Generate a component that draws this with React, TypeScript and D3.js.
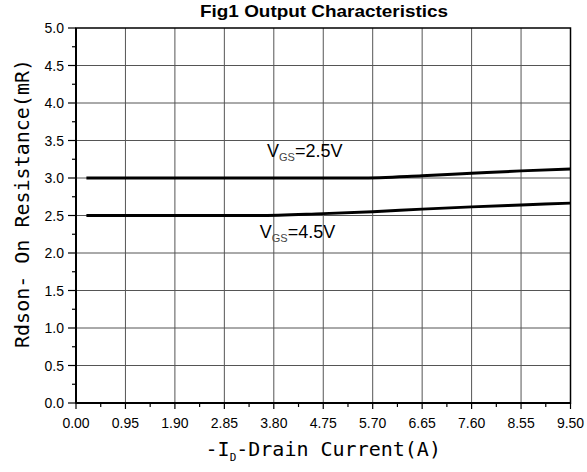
import React from "react";
import * as d3 from "d3";

const xTicks = [0, 0.95, 1.9, 2.85, 3.8, 4.75, 5.7, 6.65, 7.6, 8.55, 9.5];
const xTickLabels = ["0.00", "0.95", "1.90", "2.85", "3.80", "4.75", "5.70", "6.65", "7.60", "8.55", "9.50"];
const yTicks = [0, 0.5, 1, 1.5, 2, 2.5, 3, 3.5, 4, 4.5, 5];
const yTickLabels = ["0.0", "0.5", "1.0", "1.5", "2.0", "2.5", "3.0", "3.5", "4.0", "4.5", "5.0"];

const vgs25X = [0.2, 1.9, 3.8, 5.45, 6.65, 7.6, 8.55, 9.5];
const vgs25Y = [3.0, 3.0, 3.0, 3.0, 3.03, 3.063, 3.095, 3.12];
const vgs45X = [0.2, 1.9, 3.5, 4.75, 5.7, 6.65, 7.6, 8.55, 9.5];
const vgs45Y = [2.5, 2.5, 2.5, 2.525, 2.55, 2.585, 2.615, 2.64, 2.665];

const W = 587, H = 472;
const L = 76, R = 570.5, T = 28, B = 403;

export default function App() {
  const x = d3.scaleLinear().domain([0, 9.5]).range([L, R]);
  const y = d3.scaleLinear().domain([0, 5]).range([B, T]);
  const line = d3.line<[number, number]>().x(d => x(d[0])).y(d => y(d[1])).curve(d3.curveMonotoneX);
  const d25 = line(vgs25X.map((v, i) => [v, vgs25Y[i]]))!;
  const d45 = line(vgs45X.map((v, i) => [v, vgs45Y[i]]))!;
  const xMinor = d3.range(0, 10).map(i => 0.475 + i * 0.95);
  const yMinor = d3.range(0, 10).map(i => 0.25 + i * 0.5);
  const sans = "'Liberation Sans', Arial, sans-serif";
  const mono = "'DejaVu Sans Mono', monospace";
  return (
    <div style={{ position: "absolute", left: 0, top: 0 }}>
      <svg width={W} height={H} style={{ display: "block", background: "#fff" }}>
        <text x={200} y={17} fontFamily={sans} fontWeight="bold" fontSize={17} textLength={248} lengthAdjust="spacingAndGlyphs">
          Fig1 Output Characteristics
        </text>
        {xTicks.slice(1, -1).map(t => (
          <line key={"gx" + t} x1={x(t)} x2={x(t)} y1={T} y2={B} stroke="#555" strokeWidth={1} />
        ))}
        {yTicks.slice(1, -1).map(t => (
          <line key={"gy" + t} x1={L} x2={R} y1={y(t)} y2={y(t)} stroke="#555" strokeWidth={1} />
        ))}
        <rect x={L} y={T} width={R - L} height={B - T} fill="none" stroke="#000" strokeWidth={1.5} />
        <line x1={L} x2={L} y1={T} y2={B} stroke="#000" strokeWidth={2} />
        <line x1={L} x2={R} y1={B} y2={B} stroke="#000" strokeWidth={2} />
        {yTicks.map((t, i) => (
          <g key={"yt" + t}>
            <line x1={L - 8} x2={L} y1={y(t)} y2={y(t)} stroke="#000" strokeWidth={1.2} />
            <text x={L - 12} y={y(t) + 5} textAnchor="end" fontFamily={sans} fontSize={14}>{yTickLabels[i]}</text>
          </g>
        ))}
        {yMinor.map(t => (
          <line key={"ym" + t} x1={L - 4} x2={L} y1={y(t)} y2={y(t)} stroke="#000" strokeWidth={1.2} />
        ))}
        {xTicks.map((t, i) => (
          <g key={"xt" + t}>
            <line x1={x(t)} x2={x(t)} y1={B} y2={B + 6} stroke="#000" strokeWidth={1.2} />
            <text x={x(t)} y={B + 25} textAnchor="middle" fontFamily={sans} fontSize={14}>{xTickLabels[i]}</text>
          </g>
        ))}
        {xMinor.map(t => (
          <line key={"xm" + t} x1={x(t)} x2={x(t)} y1={B} y2={B + 4} stroke="#000" strokeWidth={1.2} />
        ))}
        <path d={d25} fill="none" stroke="#000" strokeWidth={3} />
        <path d={d45} fill="none" stroke="#000" strokeWidth={3} />
        <text x={x(3.67)} y={y(3.28)} fontFamily={sans} fontSize={18}>
          V<tspan fontSize={11} dy={4} fill="#444">GS</tspan><tspan dy={-4}>=2.5V</tspan>
        </text>
        <text x={x(3.53)} y={y(2.2)} fontFamily={sans} fontSize={18}>
          V<tspan fontSize={11} dy={4} fill="#444">GS</tspan><tspan dy={-4}>=4.5V</tspan>
        </text>
        <text x={(L + R) / 2} y={456} textAnchor="middle" fontFamily={mono} fontSize={20}>
          -I<tspan fontSize={11} dy={5}>D</tspan><tspan dy={-5}>-Drain Current(A)</tspan>
        </text>
        <text transform={`translate(29, ${(T + B) / 2 - 12}) rotate(-90)`} textAnchor="middle" fontFamily={mono} fontSize={20}>
          Rdson- On Resistance(mR)
        </text>
      </svg>
    </div>
  );
}
